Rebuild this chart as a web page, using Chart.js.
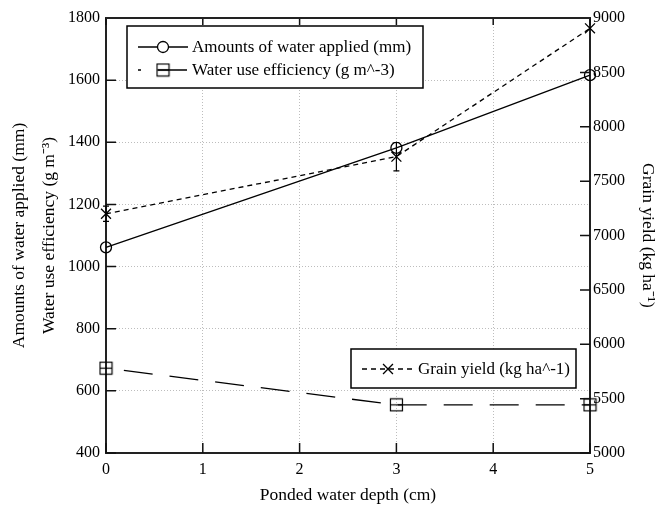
<!DOCTYPE html>
<html><head><meta charset="utf-8">
<script src="https://cdn.jsdelivr.net/npm/chart.js@4/dist/chart.umd.min.js"></script>
<style>html,body{margin:0;padding:0;background:#fff}#wrap{width:658px;height:508px}</style>
</head><body><div id="wrap"><canvas id="c" width="658" height="508"></canvas></div>
<script>
const depthCm = [0, 3, 5];
const waterApplied = [1062, 1382, 1616];
const waterUseEff = [673, 555, 555];
const grainYield = [7200, 7725, 8905];
const grainYieldErr = [70, 130, 0];
const xTickValues = [0, 1, 2, 3, 4, 5];
const leftTickValues = [400, 600, 800, 1000, 1200, 1400, 1600, 1800];
const rightTickValues = [5000, 5500, 6000, 6500, 7000, 7500, 8000, 8500, 9000];
const seriesNames = ['Amounts of water applied (mm)', 'Water use efficiency (g m^-3)', 'Grain yield (kg ha^-1)'];
const xTitle = 'Ponded water depth (cm)';
const leftTitle = ['Amounts of water applied (mm)', 'Water use efficiency (g m\u207B\u00B3)'];
const rightTitle = 'Grain yield (kg ha\u207B\u00B9)';

const FONT = "'Liberation Serif', 'Times New Roman', serif";
const pts = (ys) => depthCm.map((x, i) => ({x, y: ys[i]}));

function makeSquare() {
  const c = document.createElement('canvas');
  c.width = 15; c.height = 15;
  const g = c.getContext('2d');
  g.strokeStyle = '#000'; g.lineWidth = 1.2;
  g.strokeRect(1.5, 1.5, 12, 12);
  g.beginPath(); g.moveTo(1.5, 7.5); g.lineTo(13.5, 7.5); g.stroke();
  return c;
}
const squareImg = makeSquare();

const inwardTicks = {
  id: 'inwardTicks',
  afterDatasetsDraw(chart) {
    const {ctx, chartArea: a, scales} = chart;
    ctx.save();
    ctx.strokeStyle = '#111'; ctx.lineWidth = 1.5;
    ctx.beginPath();
    leftTickValues.forEach(v => { const y = scales.y.getPixelForValue(v); ctx.moveTo(a.left, y); ctx.lineTo(a.left + 10, y); });
    rightTickValues.forEach(v => { const y = scales.y2.getPixelForValue(v); ctx.moveTo(a.right, y); ctx.lineTo(a.right - 10, y); });
    xTickValues.forEach(v => { const x = scales.x.getPixelForValue(v); ctx.moveTo(x, a.bottom); ctx.lineTo(x, a.bottom - 10); ctx.moveTo(x, a.top); ctx.lineTo(x, a.top + 7); });
    ctx.stroke();
    // error bars for grain yield
    ctx.lineWidth = 1.2; ctx.strokeStyle = '#000';
    ctx.beginPath();
    depthCm.forEach((d, i) => {
      if (!grainYieldErr[i]) return;
      const x = scales.x.getPixelForValue(d);
      const y1 = scales.y2.getPixelForValue(grainYield[i] - grainYieldErr[i]);
      const y2 = scales.y2.getPixelForValue(grainYield[i] + grainYieldErr[i]);
      ctx.moveTo(x, y1); ctx.lineTo(x, y2);
      ctx.moveTo(x - 3, y1); ctx.lineTo(x + 3, y1);
      ctx.moveTo(x - 3, y2); ctx.lineTo(x + 3, y2);
    });
    ctx.stroke();
    ctx.lineWidth = 2; ctx.strokeStyle = '#222';
    ctx.beginPath(); ctx.moveTo(a.left, a.top); ctx.lineTo(a.right, a.top); ctx.stroke();
    ctx.restore();
  }
};

const customLegends = {
  id: 'customLegends',
  afterDraw(chart) {
    const {ctx, chartArea: a} = chart;
    const ds = chart.data.datasets;
    ctx.save();
    const box = (x, y, w, h) => {
      ctx.fillStyle = '#fff'; ctx.fillRect(x, y, w, h);
      ctx.strokeStyle = '#000'; ctx.lineWidth = 1.5; ctx.setLineDash([]);
      ctx.strokeRect(x, y, w, h);
    };
    const entry = (d, x0, x1, y, dashOffset, label) => {
      ctx.strokeStyle = '#000'; ctx.lineWidth = 1.3;
      ctx.setLineDash(d.borderDash || []); ctx.lineDashOffset = dashOffset;
      ctx.beginPath(); ctx.moveTo(x0, y); ctx.lineTo(x1, y); ctx.stroke();
      ctx.setLineDash([]); ctx.lineDashOffset = 0;
      Chart.helpers.drawPoint(ctx, {pointStyle: d.pointStyle, radius: d.pointRadius, borderWidth: 1.3, rotation: 0}, (x0 + x1) / 2, y);
      ctx.fillStyle = '#000'; ctx.font = '17px ' + FONT; ctx.textBaseline = 'middle'; ctx.textAlign = 'left';
      ctx.fillText(label, x1 + 4, y + 1);
    };
    const b1x = a.left + 21, b1y = a.top + 8;
    box(b1x, b1y, 296, 62);
    entry(ds[0], b1x + 11, b1x + 61, b1y + 21, 0, ds[0].label);
    entry(ds[1], b1x + 11, b1x + 61, b1y + 44, 26, ds[1].label);
    const b2x = a.left + 245, b2y = a.bottom - 104;
    box(b2x, b2y, 225, 39);
    entry(ds[2], b2x + 11, b2x + 63, b2y + 20, 0, ds[2].label);
    ctx.restore();
  }
};

const plainTick = v => String(v);

new Chart(document.getElementById('c'), {
  type: 'line',
  data: {
    datasets: [
      { label: seriesNames[0], data: pts(waterApplied), yAxisID: 'y', borderColor: '#000', borderWidth: 1.3,
        pointStyle: 'circle', pointRadius: 5.5, pointBorderColor: '#000', pointBackgroundColor: 'rgba(0,0,0,0)', pointBorderWidth: 1.3, tension: 0, clip: false },
      { label: seriesNames[1], data: pts(waterUseEff), yAxisID: 'y', borderColor: '#000', borderWidth: 1.3, borderDash: [29, 17], borderDashOffset: 28,
        pointStyle: squareImg, pointRadius: 7, tension: 0, clip: false },
      { label: seriesNames[2], data: pts(grainYield), yAxisID: 'y2', borderColor: '#000', borderWidth: 1.3, borderDash: [5, 4],
        pointStyle: 'crossRot', pointRadius: 7, pointBorderColor: '#000', pointBorderWidth: 1.3, tension: 0, clip: false }
    ]
  },
  options: {
    responsive: false, animation: false, devicePixelRatio: 1,
    layout: { padding: { top: 18, left: 0, right: 0, bottom: 0 } },
    plugins: { legend: { display: false }, tooltip: { enabled: false } },
    scales: {
      x: {
        type: 'linear', min: 0, max: 5,
        afterBuildTicks: s => { s.ticks = xTickValues.map(v => ({value: v})); },
        afterFit: s => { s.height = 55; },
        ticks: { color: '#000', font: { family: FONT, size: 16 }, padding: 7, maxRotation: 0, callback: plainTick },
        grid: { color: '#bdbdbd', lineWidth: 1, drawTicks: false },
        border: { display: true, color: '#222', width: 2, dash: [1, 2] },
        title: { display: true, text: xTitle, color: '#000', font: { family: FONT, size: 17.5 }, padding: { top: 0, bottom: 2.5 } }
      },
      y: {
        type: 'linear', position: 'left', min: 400, max: 1800,
        afterBuildTicks: s => { s.ticks = leftTickValues.map(v => ({value: v})); },
        afterFit: s => { s.width = 106; },
        ticks: { color: '#000', font: { family: FONT, size: 16 }, padding: 6, callback: plainTick },
        grid: { color: '#bdbdbd', lineWidth: 1, drawTicks: false },
        border: { display: true, color: '#222', width: 2, dash: [1, 2] },
        title: { display: true, text: leftTitle, color: '#000', font: { family: FONT, size: 17.5, lineHeight: 1.72 }, padding: { top: 4, bottom: 0 } }
      },
      y2: {
        type: 'linear', position: 'right', min: 5000, max: 9000,
        afterBuildTicks: s => { s.ticks = rightTickValues.map(v => ({value: v})); },
        afterFit: s => { s.width = 68; },
        ticks: { color: '#000', font: { family: FONT, size: 16 }, padding: 3, callback: plainTick },
        grid: { display: false, drawTicks: false },
        border: { display: true, color: '#222', width: 2 },
        title: { display: true, text: rightTitle, color: '#000', font: { family: FONT, size: 17.5 }, padding: { top: 0, bottom: 0 } }
      }
    }
  },
  plugins: [inwardTicks, customLegends]
});
</script>
</body></html>
